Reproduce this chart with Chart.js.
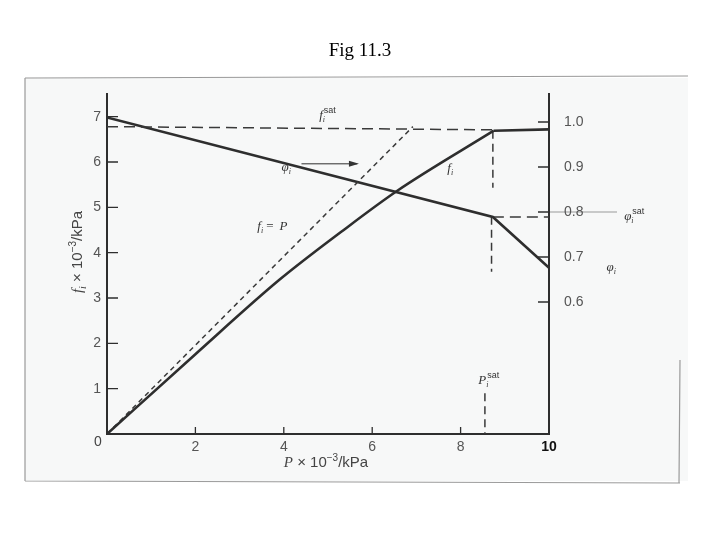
<!DOCTYPE html>
<html>
<head>
<meta charset="utf-8">
<script src="https://cdn.jsdelivr.net/npm/chart.js@4/dist/chart.umd.min.js"></script>
<style>
body{margin:0;background:#fff}
canvas{display:block}
</style>
</head>
<body>
<canvas id="c" width="720" height="540"></canvas>
<script>
// fugacity f_i vs P (f x 10^-3 / kPa, P x 10^-3 / kPa)
const pVals = [0, 2, 3.9, 5.3, 6.56, 8.75, 10]
const fVals = [0, 1.76, 3.4, 4.46, 5.36, 6.69, 6.72]
// ideal gas line f_i = P
const idealP = [0, 6.92]
const idealF = [0, 6.78]
// f_i sat dashed level
const fsatP = [0, 8.75]
const fsatF = [6.78, 6.71]
// fugacity coefficient phi_i (right axis)
const phiP = [0, 8.73, 10]
const phiVals = [1.01, 0.789, 0.676]
const phiSatP = [8.73, 10]
const phiSatVals = [0.789, 0.789]
// P_i sat vertical dashed (broken in the scan)
const psatP = [8.73, 8.73, 8.7, 8.7, 8.7, 8.55, 8.55, 8.55]
const psatF = [6.69, 5.43, null, 4.79, 3.58, null, 0.9, 0]

const xTicks = [2, 4, 6, 8, 10]
const yTicks = [1, 2, 3, 4, 5, 6, 7]
const phiTicks = [0.6, 0.7, 0.8, 0.9, 1.0]

const pts = (xs, ys) => xs.map((x, i) => ({x: x, y: ys[i]}))
const ink = '#2e2e2e'
const serif = '"Liberation Serif", serif'
const sans = '"Liberation Sans", Arial, sans-serif'

// symbol with subscript and superscript, e.g. f_i^sat
function sym(ctx, x, y, base, sub, sup, size) {
    ctx.font = 'italic ' + size + 'px ' + serif
    ctx.textAlign = 'left'
    ctx.textBaseline = 'alphabetic'
    ctx.fillText(base, x, y)
    let w = ctx.measureText(base).width
    ctx.font = 'italic ' + Math.round(size * 0.65) + 'px ' + serif
    let end = x + w
    if (sub) { ctx.fillText(sub, x + w, y + size * 0.25); end = x + w + ctx.measureText(sub).width }
    if (sup) {
        ctx.font = Math.round(size * 0.7) + 'px ' + sans
        ctx.fillText(sup, x + w + 1, y - size * 0.45)
    }
    return end
}

// run of text pieces, returns width
function runs(ctx, parts, x, y, draw) {
    let cx = x
    for (const p of parts) {
        ctx.font = p.f
        if (draw) ctx.fillText(p.t, cx, y + (p.dy || 0))
        cx += ctx.measureText(p.t).width
    }
    return cx - x
}

const deco = {
    id: 'deco',
    beforeDraw(chart) {
        const c = chart.ctx
        c.save()
        c.fillStyle = '#fff'
        c.fillRect(0, 0, 720, 540)
        // scanned page area
        c.fillStyle = '#f7f8f8'
        c.fillRect(25, 78, 663, 403)
        c.strokeStyle = '#9a9a9a'
        c.lineWidth = 1.2
        c.beginPath()
        c.moveTo(25, 78); c.lineTo(688, 76)
        c.moveTo(25, 78); c.lineTo(25, 481)
        c.moveTo(25, 481); c.lineTo(680, 483)
        c.moveTo(680, 360); c.lineTo(679, 483)
        c.moveTo(549, 212); c.lineTo(617, 212)
        c.stroke()
        c.restore()
    },
    afterDraw(chart) {
        const c = chart.ctx
        const xs = chart.scales.x, ys = chart.scales.y, ps = chart.scales.y1
        c.save()
        c.strokeStyle = ink
        c.lineWidth = 1.3
        c.beginPath()
        // inward tick marks
        yTicks.forEach(v => { const py = ys.getPixelForValue(v); c.moveTo(xs.left, py); c.lineTo(xs.left + 11, py) })
        xTicks.slice(0, 4).forEach(v => { const px = xs.getPixelForValue(v); c.moveTo(px, ys.bottom); c.lineTo(px, ys.bottom - 7) })
        phiTicks.forEach(v => { const py = ps.getPixelForValue(v); c.moveTo(xs.right, py); c.lineTo(xs.right - 11, py) })
        c.stroke()

        // origin label
        c.fillStyle = '#444'
        c.font = '14px ' + sans
        c.textAlign = 'center'
        c.textBaseline = 'middle'
        c.fillText('0', xs.left - 9, ys.bottom + 8)

        // curve labels
        c.fillStyle = '#333'
        const X = v => xs.getPixelForValue(v), Y = v => ys.getPixelForValue(v)
        sym(c, X(4.8), Y(6.95), 'f', 'i', 'sat', 13)
        sym(c, X(3.95), Y(5.8), '\u03c6', 'i', null, 13)
        sym(c, X(7.7), Y(5.78), 'f', 'i', null, 13)
        sym(c, X(11.7), Y(4.72), '\u03c6', 'i', 'sat', 13)
        sym(c, X(11.3), Y(3.6), '\u03c6', 'i', null, 13)
        sym(c, X(8.4), Y(1.1), 'P', 'i', 'sat', 13)
        // f_i = P
        const e = sym(c, X(3.4), Y(4.5), 'f', 'i', null, 13)
        c.font = '13px ' + serif
        c.fillText(' = ', e, Y(4.5))
        c.font = 'italic 13px ' + serif
        c.fillText('P', e + c.measureText(' = ').width + 1, Y(4.5))
        // arrow to the right
        const ay = Y(5.96)
        c.lineWidth = 1
        c.beginPath()
        c.moveTo(X(4.4), ay); c.lineTo(X(5.66), ay)
        c.stroke()
        c.beginPath()
        c.moveTo(X(5.7), ay); c.lineTo(X(5.7) - 10, ay - 3); c.lineTo(X(5.7) - 10, ay + 3); c.closePath()
        c.fill()

        // axis titles
        c.fillStyle = '#444'
        const sup = '10px ' + sans, nf = '15px ' + sans
        const xParts = [
            {t: 'P', f: 'italic 15px ' + serif},
            {t: ' \u00d7 10', f: nf},
            {t: '\u22123', f: sup, dy: -6},
            {t: '/kPa', f: nf}
        ]
        c.textAlign = 'left'
        c.textBaseline = 'alphabetic'
        let w = runs(c, xParts, 0, 0, false)
        runs(c, xParts, 326 - w / 2, 467, true)

        const yParts = [
            {t: 'f', f: 'italic 15px ' + serif},
            {t: 'i', f: 'italic 10px ' + serif, dy: 4},
            {t: ' \u00d7 10', f: nf},
            {t: '\u22123', f: sup, dy: -6},
            {t: '/kPa', f: nf}
        ]
        c.translate(77, 252)
        c.rotate(-Math.PI / 2)
        w = runs(c, yParts, 0, 0, false)
        runs(c, yParts, -w / 2, 5, true)
        c.restore()
    }
}

const solid = (data, axis, t) => ({data: data, yAxisID: axis, showLine: true, borderColor: ink, borderWidth: 2.6, pointRadius: 0, tension: t || 0, cubicInterpolationMode: t ? 'monotone' : 'default', spanGaps: false})
const dashed = (data, axis, dash) => ({data: data, yAxisID: axis, showLine: true, borderColor: '#3a3a3a', borderWidth: 1.5, borderDash: dash, pointRadius: 0, tension: 0, spanGaps: false})

new Chart(document.getElementById('c'), {
    type: 'scatter',
    data: {
        datasets: [
            solid(pts(pVals.slice(0, 6), fVals.slice(0, 6)), 'y', 0.4),
            solid(pts(pVals.slice(5), fVals.slice(5)), 'y'),
            dashed(pts(idealP, idealF), 'y', [5, 4]),
            dashed(pts(fsatP, fsatF), 'y', [11, 6]),
            solid(pts(phiP, phiVals), 'y1'),
            dashed(pts(phiSatP, phiSatVals), 'y1', [11, 6]),
            dashed(pts(psatP, psatF), 'y', [8, 5])
        ]
    },
    options: {
        responsive: false,
        animation: false,
        layout: {padding: {top: 0, left: 0, right: 0, bottom: 0}},
        plugins: {
            legend: {display: false},
            tooltip: {enabled: false},
            title: {
                display: true,
                text: 'Fig 11.3',
                color: '#000',
                font: {family: serif, size: 19, weight: 'normal'},
                padding: {top: 40, bottom: 31.2}
            }
        },
        scales: {
            x: {
                type: 'linear', min: 0, max: 10,
                afterBuildTicks: s => { s.ticks = xTicks.map(v => ({value: v})) },
                afterFit: s => { s.height = 106 },
                grid: {display: false, drawTicks: false},
                border: {display: true, color: ink, width: 2},
                ticks: {
                    padding: 5,
                    font: ctx => ({family: sans, size: 14, weight: ctx.tick && ctx.tick.value === 10 ? 'bold' : 'normal'}),
                    color: ctx => ctx.tick && ctx.tick.value === 10 ? '#111' : '#555'
                }
            },
            y: {
                type: 'linear', min: 0, max: 7.5,
                afterBuildTicks: s => { s.ticks = yTicks.map(v => ({value: v})) },
                afterFit: s => { s.width = 107 },
                grid: {display: false, drawTicks: false},
                border: {display: true, color: ink, width: 2},
                ticks: {padding: 6, color: '#555', font: {family: sans, size: 14}}
            },
            y1: {
                type: 'linear', position: 'right', min: 0.30667, max: 1.06222,
                afterBuildTicks: s => { s.ticks = phiTicks.map(v => ({value: v})) },
                afterFit: s => { s.width = 171 },
                grid: {display: false, drawTicks: false},
                border: {display: true, color: ink, width: 2},
                ticks: {padding: 15, color: '#555', font: {family: sans, size: 14}, callback: v => v.toFixed(1)}
            }
        }
    },
    plugins: [deco]
})
</script>
</body>
</html>
